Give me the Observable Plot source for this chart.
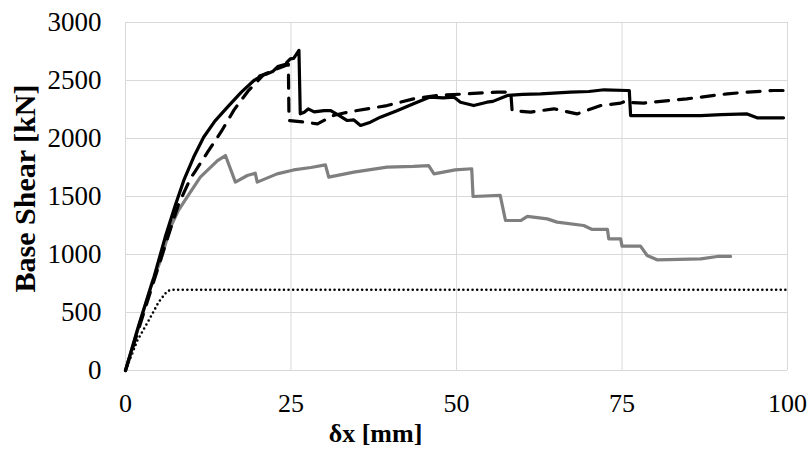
<!DOCTYPE html>
<html>
<head>
<meta charset="utf-8">
<script src="https://cdn.jsdelivr.net/npm/d3@7"></script>
<script src="https://cdn.jsdelivr.net/npm/@observablehq/plot@0.6"></script>
<style>
  html, body { margin: 0; padding: 0; background: #fff; }
</style>
</head>
<body>
<div id="chart"></div>
<script>
const xTicks = [0, 25, 50, 75, 100];
const yTicks = [0, 500, 1000, 1500, 2000, 2500, 3000];
const xTitle = "δx [mm]";
const yTitle = "Base Shear [kN]";

// solid black curve [δx mm, base shear kN]
const solid = [
  [0,0],[2,390],[4.3,805],[6,1150],[7.5,1420],[8.8,1638],[10.3,1840],[11.8,2011],
  [13.5,2150],[15.4,2270],[17.5,2400],[19.4,2500],[20,2520],[20.3,2540],[21.4,2557],
  [22.3,2580],[23,2620],[24.2,2640],[24.4,2658],[24.9,2687],[25.4,2690],[26.2,2759],
  [26.4,2213],[27,2227],[27.6,2255],[28.5,2230],[30,2241],[31,2241],[32.3,2198],
  [33.5,2155],[34.5,2160],[35.5,2112],[37,2141],[38.5,2184],[41,2240],[43.5,2299],
  [46,2357],[48,2350],[49.6,2357],[50.6,2313],[52.6,2284],[54.6,2313],[55.5,2320],
  [57.7,2371],[60,2380],[62.7,2385],[67.2,2400],[70,2405],[72.3,2420],[75.8,2414],
  [76.1,2414],[76.3,2198],[80,2198],[86.9,2198],[90,2205],[93.9,2212],[95.4,2178],[99.4,2178]
];

// dashed black curve
const dashed = [
  [0,0],[2,360],[4,720],[6,1080],[8,1430],[9.8,1655],[10.6,1724],[12.4,1882],
  [14.5,2063],[16.4,2247],[18.5,2408],[20.9,2552],[22.9,2600],[24.2,2629],[24.6,2640],
  [24.7,2155],[27,2141],[29,2126],[31.4,2198],[33,2220],[35,2241],[39.5,2284],
  [43.5,2342],[47.1,2371],[51.6,2385],[56.2,2400],[58.2,2400],[58.4,2241],[61.2,2227],
  [64.7,2256],[66,2240],[68.2,2212],[71.8,2284],[74.8,2305],[75.8,2328],[76.5,2310],
  [78.3,2305],[84.8,2342],[90.9,2385],[94,2400],[97.9,2414],[99.5,2414]
];

// gray curve
const gray = [
  [0,0],[2,380],[4,760],[5.3,948],[6.8,1236],[8,1380],[9.3,1494],[11.3,1667],
  [13.9,1810],[15.1,1853],[16.6,1624],[18.4,1681],[19.6,1701],[19.9,1624],[22.9,1695],
  [25.4,1729],[28,1750],[30.2,1772],[30.7,1667],[34.5,1710],[39.5,1753],[43.5,1759],
  [45.8,1767],[46.6,1695],[49.8,1729],[52.3,1739],[52.5,1500],[56.6,1510],[57.4,1293],
  [59.7,1293],[60.7,1328],[63.7,1307],[65.2,1279],[69.2,1250],[70.5,1216],[72.8,1216],
  [73,1135],[74.8,1135],[75,1072],[77.8,1072],[78.8,991],[80.3,954],[86.9,962],
  [89.4,983],[91.4,983]
];

// dotted bilinear curve
const dotted = [
  [0,0],[1.8,259],[3.5,431],[5,589],[6.3,684],[7,696],[100,696]
];

const X = d => d[0], Y = d => d[1];
const font = "'Liberation Serif', 'Times New Roman', serif";

const chart = Plot.plot({
  width: 812,
  height: 450,
  marginLeft: 125,
  marginRight: 25,
  marginTop: 22,
  marginBottom: 80,
  style: { fontFamily: font, fontSize: "26px", color: "#000", background: "#fff" },
  x: { domain: [0, 100] },
  y: { domain: [0, 3000] },
  marks: [
    Plot.gridX(xTicks, { stroke: "#d9d9d9", strokeOpacity: 1, strokeWidth: 1 }),
    Plot.gridY(yTicks, { stroke: "#d9d9d9", strokeOpacity: 1, strokeWidth: 1 }),
    Plot.axisX(xTicks, { tickSize: 0, tickPadding: 23, label: null, fontSize: 26, tickFormat: d => String(d) }),
    Plot.axisY(yTicks, { tickSize: 0, tickPadding: 24, label: null, fontSize: 27, tickFormat: d => String(d) }),
    Plot.line(dotted, { x: X, y: Y, stroke: "#000", strokeWidth: 2.6, strokeDasharray: "0,4.6", strokeLinecap: "round" }),
    Plot.line(gray, { x: X, y: Y, stroke: "#7f7f7f", strokeWidth: 3.2, strokeLinejoin: "round" }),
    Plot.line(dashed, { x: X, y: Y, stroke: "#000", strokeWidth: 3.2, strokeDasharray: "13,10", strokeLinejoin: "round" }),
    Plot.line(solid, { x: X, y: Y, stroke: "#000", strokeWidth: 3.2, strokeLinejoin: "round" }),
    Plot.text([xTitle], { text: d => d, frameAnchor: "bottom", textAnchor: "middle", dx: -81, dy: 63, fontSize: 26, fontWeight: "bold", lineAnchor: "middle", fill: "#000" }),
    Plot.text([yTitle], { text: d => d, frameAnchor: "left", textAnchor: "middle", dx: -100, dy: -8, rotate: -90, fontSize: 30, fontWeight: "bold", lineAnchor: "middle", fill: "#000" })
  ]
});
document.getElementById("chart").appendChild(chart);
</script>
</body>
</html>
